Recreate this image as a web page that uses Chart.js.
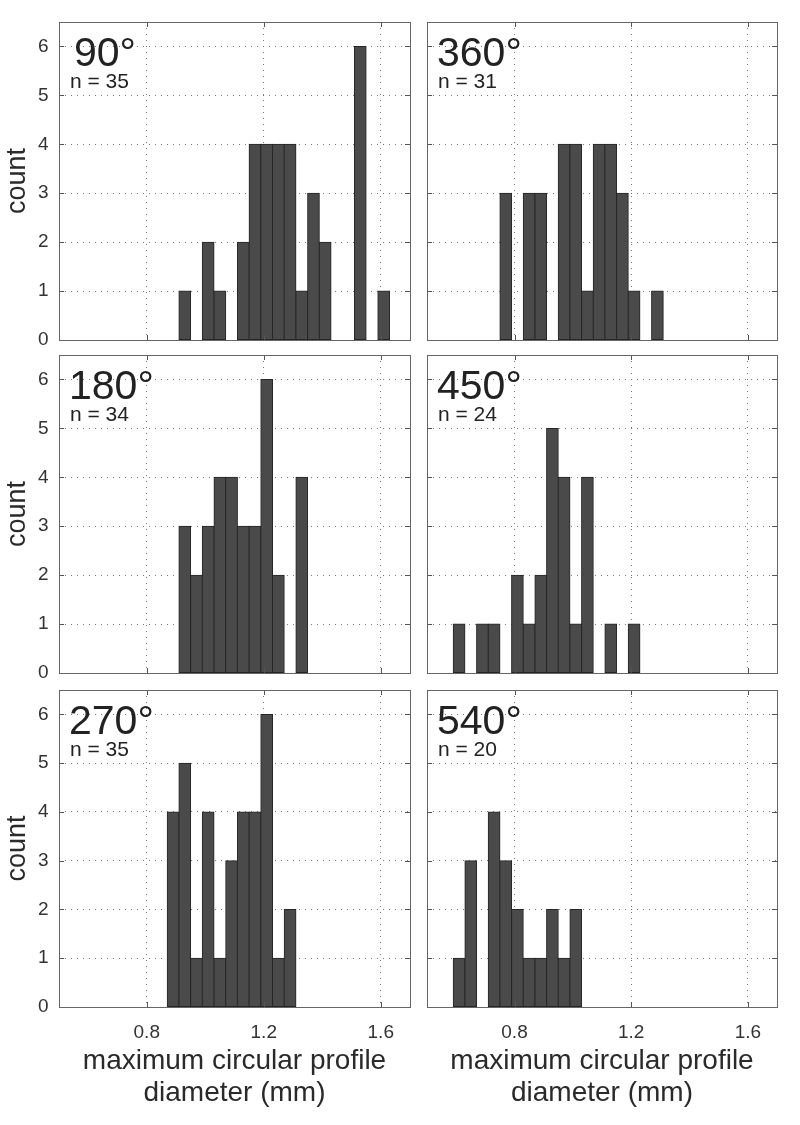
<!DOCTYPE html>
<html>
<head>
<meta charset="utf-8">
<script src="https://cdn.jsdelivr.net/npm/chart.js@4.4.1/dist/chart.umd.min.js"></script>
<style>
html,body{margin:0;padding:0;background:#fff;}
#wrap{position:relative;width:800px;height:1125px;overflow:hidden;background:#fff;}
#wrap canvas{position:absolute;}
</style>
</head>
<body>
<div id="wrap"></div>
<script>
// ---- data ----
const binCenters = [0.61,0.65,0.69,0.73,0.77,0.81,0.85,0.89,0.93,0.97,1.01,1.05,1.09,1.13,1.17,1.21,1.25,1.29,1.33,1.37,1.41,1.45,1.49,1.53,1.57,1.61];
const counts90  = [0,0,0,0,0,0,0,0,1,0,2,1,0,2,4,4,4,4,1,3,2,0,0,6,0,1];
const counts180 = [0,0,0,0,0,0,0,0,3,2,3,4,4,3,3,6,2,0,4,0,0,0,0,0,0,0];
const counts270 = [0,0,0,0,0,0,0,4,5,1,4,1,3,4,4,6,1,2,0,0,0,0,0,0,0,0];
const counts360 = [0,0,0,0,3,0,3,3,0,4,4,1,4,4,3,1,0,1,0,0,0,0,0,0,0,0];
const counts450 = [1,0,1,1,0,2,1,2,5,4,1,4,0,1,0,1,0,0,0,0,0,0,0,0,0,0];
const counts540 = [1,3,0,4,3,2,1,1,2,1,2,0,0,0,0,0,0,0,0,0,0,0,0,0,0,0];
const panelTitles = ['90°','180°','270°','360°','450°','540°'];
const panelN = ['n = 35','n = 34','n = 35','n = 31','n = 24','n = 20'];
const xTickValues = [0.8, 1.2, 1.6];
const yTickValues = [0, 1, 2, 3, 4, 5, 6];
const xTitle = ['maximum circular profile', 'diameter (mm)'];
const yTitle = 'count';

const panelCounts = [counts90, counts180, counts270, counts360, counts450, counts540];

// ---- styling / layout ----
const FONT = '"Liberation Sans", Arial, Helvetica, sans-serif';
Chart.defaults.font.family = FONT;
Chart.defaults.color = '#333';

const colBox = [ {left: 0, width: 418, padL: 0, padR: 8, yW: 59},
                 {left: 418, width: 382, padL: 9, padR: 23, yW: 0} ];
const rowBox = [ {top: 0, height: 347, padT: 22, padB: 7, xH: 0},
                 {top: 347, height: 335, padT: 8, padB: 9, xH: 0},
                 {top: 682, height: 443, padT: 8, padB: 0, xH: 118} ];

const panelDecor = {
  id: 'panelDecor',
  afterDatasetsDraw(chart, args, opts) {
    const {ctx, chartArea: a} = chart;
    const x = chart.scales.x, y = chart.scales.y;
    ctx.save();
    ctx.lineWidth = 1;
    ctx.strokeStyle = '#555';
    ctx.beginPath();
    const L = 5;
    x.ticks.forEach(t => {
      const px = Math.round(x.getPixelForValue(t.value)) + 0.5;
      ctx.moveTo(px, a.top); ctx.lineTo(px, a.top + L);
      ctx.moveTo(px, a.bottom); ctx.lineTo(px, a.bottom - L);
    });
    y.ticks.forEach(t => {
      const py = Math.round(y.getPixelForValue(t.value)) + 0.5;
      ctx.moveTo(a.left, py); ctx.lineTo(a.left + L, py);
      ctx.moveTo(a.right, py); ctx.lineTo(a.right - L, py);
    });
    ctx.stroke();
    ctx.strokeStyle = '#666';
    ctx.strokeRect(Math.round(a.left) + 0.5, Math.round(a.top) + 0.5,
                   Math.round(a.right - a.left), Math.round(a.bottom - a.top));
    ctx.fillStyle = '#222';
    ctx.textBaseline = 'alphabetic';
    ctx.textAlign = 'left';
    ctx.font = '41px ' + FONT;
    const dx = opts.title.length < 4 ? 15 : 10;
    ctx.fillText(opts.title, a.left + dx, a.top + 44);
    ctx.font = '21px ' + FONT;
    ctx.fillText(opts.n, a.left + 11, a.top + 66);
    ctx.restore();
  }
};

const wrap = document.getElementById('wrap');

function makePanel(idx) {
  const col = Math.floor(idx / 3), row = idx % 3;
  const cb = colBox[col], rb = rowBox[row];
  const cv = document.createElement('canvas');
  cv.width = cb.width; cv.height = rb.height;
  cv.style.left = cb.left + 'px'; cv.style.top = rb.top + 'px';
  cv.style.width = cb.width + 'px'; cv.style.height = rb.height + 'px';
  wrap.appendChild(cv);

  const counts = panelCounts[idx];
  const data = binCenters.map((c, i) => ({x: c, y: counts[i] === 0 ? null : counts[i]}));

  new Chart(cv, {
    type: 'bar',
    data: {
      datasets: [{
        data: data,
        backgroundColor: '#4a4a4a',
        borderColor: '#262626',
        borderWidth: 1,
        borderSkipped: false,
        barPercentage: 1,
        categoryPercentage: 1,
        inflateAmount: 0.5
      }]
    },
    plugins: [panelDecor],
    options: {
      responsive: false,
      animation: false,
      devicePixelRatio: 1,
      layout: { padding: {left: cb.padL, right: cb.padR, top: rb.padT, bottom: rb.padB} },
      plugins: {
        legend: {display: false},
        tooltip: {enabled: false},
        panelDecor: {title: panelTitles[idx], n: panelN[idx]}
      },
      scales: {
        x: {
          type: 'linear',
          min: 0.5, max: 1.7,
          offset: false,
          afterBuildTicks: s => { s.ticks = xTickValues.map(v => ({value: v})); },
          afterFit: s => { s.height = rb.xH; s.paddingLeft = s.paddingRight = s.paddingTop = s.paddingBottom = 0; },
          grid: { offset: false, color: '#7a7a7a', lineWidth: 1, drawTicks: false },
          border: { display: false, dash: [1, 5] },
          ticks: {
            display: row === 2,
            padding: 14,
            maxRotation: 0,
            autoSkip: false,
            font: {size: 19},
            color: '#333',
            callback: v => Number(v).toFixed(1)
          },
          title: {
            display: row === 2,
            text: xTitle,
            font: {size: 28, lineHeight: 32 / 28},
            color: '#2a2a2a',
            padding: {top: 0, bottom: 16}
          }
        },
        y: {
          type: 'linear',
          min: 0, max: 6.5,
          afterBuildTicks: s => { s.ticks = yTickValues.map(v => ({value: v})); },
          afterFit: s => { s.width = cb.yW; s.paddingLeft = s.paddingRight = s.paddingTop = s.paddingBottom = 0; },
          grid: { offset: false, color: '#7a7a7a', lineWidth: 1, drawTicks: false },
          border: { display: false, dash: [1, 5] },
          ticks: {
            display: col === 0,
            padding: 10.5,
            font: {size: 19},
            color: '#333',
            callback: v => String(v)
          },
          title: {
            display: col === 0,
            text: yTitle,
            font: {size: 27, lineHeight: 32 / 27},
            color: '#2a2a2a',
            padding: {top: 2, bottom: 0}
          }
        }
      }
    }
  });
}

for (let i = 0; i < 6; i++) makePanel(i);
</script>
</body>
</html>
